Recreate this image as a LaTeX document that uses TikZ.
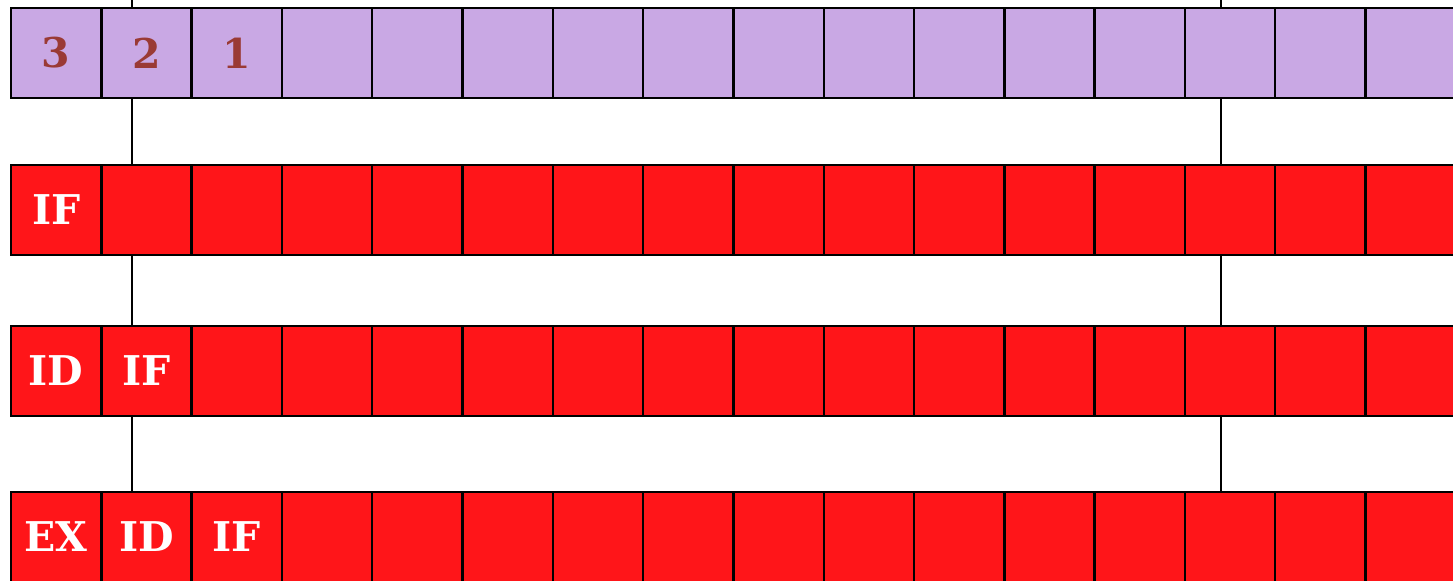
\documentclass[tikz,border=0pt]{standalone}
\usepackage{fontspec}
\setmainfont{DejaVu Serif}
\definecolor{slotpurple}{HTML}{C9A8E4}
\definecolor{stagered}{HTML}{FF1519}
\definecolor{slotnum}{HTML}{9A3A35}
\tikzset{
  cell/.style={draw, line width=1.2pt, minimum width=45.15pt, minimum height=45pt,
               inner sep=0pt, outer sep=0pt},
  wire/.style={line width=1pt},
  lbl/.style={font=\fontsize{20.5}{24}\selectfont\bfseries, inner sep=0pt}
}
\begin{document}
\begin{tikzpicture}[x=0.5pt,y=-0.5pt]
\useasboundingbox (0,0) rectangle (1453,580);
% cycle markers
\coordinate (la) at (132,0);
\coordinate (lb) at (132,492);
\coordinate (ra) at (1221,0);
\coordinate (rb) at (1221,492);
\draw[wire] (la) -- (lb);
\draw[wire] (ra) -- (rb);
% rows of cells
\foreach \i in {1,...,16} {
  \node[cell, fill=slotpurple] (p\i) at ({56.15+90.3*(\i-1)},53) {};
  \node[cell, fill=stagered]   (a\i) at ({56.15+90.3*(\i-1)},210) {};
  \node[cell, fill=stagered]   (b\i) at ({56.15+90.3*(\i-1)},371) {};
  \node[cell, fill=stagered]   (c\i) at ({56.15+90.3*(\i-1)},537) {};
}
% slot numbers
\node[lbl, text=slotnum] (n3) at (p1) {3};
\node[lbl, text=slotnum] (n2) at (p2) {2};
\node[lbl, text=slotnum] (n1) at (p3) {1};
% stages
\node[lbl, text=white] (a1t) at (a1) {IF};
\node[lbl, text=white] (b1t) at (b1) {ID};
\node[lbl, text=white] (b2t) at (b2) {IF};
\node[lbl, text=white] (c1t) at (c1) {EX};
\node[lbl, text=white] (c2t) at (c2) {ID};
\node[lbl, text=white] (c3t) at (c3) {IF};
\end{tikzpicture}
\end{document}
